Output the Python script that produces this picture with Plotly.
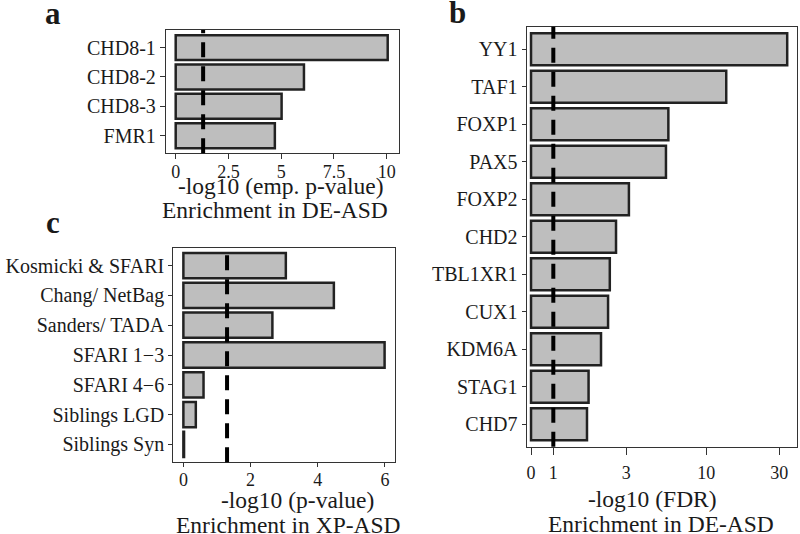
import plotly.graph_objects as go

# ---- data ----
a_cats = ["CHD8-1", "CHD8-2", "CHD8-3", "FMR1"]
a_vals = [10.05, 6.08, 5.02, 4.70]
a_ticks = [0, 2.5, 5, 7.5, 10]
a_ticktext = ["0", "2.5", "5", "7.5", "10"]
a_thr = 1.3

b_cats = ["YY1", "TAF1", "FOXP1", "PAX5", "FOXP2", "CHD2", "TBL1XR1", "CUX1", "KDM6A", "STAG1", "CHD7"]
b_vals = [33.8, 13.5, 5.65, 5.45, 3.12, 2.57, 2.34, 2.28, 2.05, 1.70, 1.66]
b_zero = 0.715  # where the "0" label sits on the log axis
b_ticks = [b_zero, 1, 3, 10, 30]
b_ticktext = ["0", "1", "3", "10", "30"]
b_thr = 1

c_cats = ["Kosmicki & SFARI", "Chang/ NetBag", "Sanders/ TADA", "SFARI 1\u22123", "SFARI 4\u22126", "Siblings LGD", "Siblings Syn"]
c_vals = [3.05, 4.48, 2.65, 5.99, 0.60, 0.37, 0.02]
c_ticks = [0, 2, 4, 6]
c_thr = 1.3

FONT = "Liberation Serif"
TXT = "#1a1a1a"
FILL = "#BEBEBE"
EDGE = "#222222"
W, H = 800, 534

bar_style = dict(color=FILL, line=dict(color=EDGE, width=2.5))

fig = go.Figure()
fig.add_trace(go.Bar(x=a_vals, y=a_cats, orientation="h", xaxis="x", yaxis="y",
                     marker=bar_style, width=0.85, showlegend=False))
fig.add_trace(go.Bar(x=[v - b_zero for v in b_vals], base=b_zero, y=b_cats, orientation="h",
                     xaxis="x2", yaxis="y2", marker=bar_style, width=0.85, showlegend=False))
fig.add_trace(go.Bar(x=c_vals, y=c_cats, orientation="h", xaxis="x3", yaxis="y3",
                     marker=bar_style, width=0.85, showlegend=False))

def px_x(p):
    return p / W

def px_y(p):
    return 1 - p / H

def axis_style(ticklen=4, standoff=0, size=20):
    return dict(showgrid=False, zeroline=False, showline=True, mirror=True,
                linecolor="#333333", linewidth=1.3, ticks="outside", ticklen=ticklen,
                tickcolor="#333333", tickwidth=1, ticklabelstandoff=standoff,
                tickfont=dict(family=FONT, size=size, color=TXT))

fig.update_layout(
    width=W, height=H,
    margin=dict(l=0, r=0, t=0, b=0),
    paper_bgcolor="white", plot_bgcolor="white",
    font=dict(family=FONT, color=TXT),
    xaxis=dict(domain=[px_x(166), px_x(399.3)], anchor="y", range=[-0.46, 10.6],
               tickvals=a_ticks, ticktext=a_ticktext, **axis_style(5, -3, 18)),
    yaxis=dict(domain=[px_y(153.3), px_y(30)], anchor="x", type="category",
               categoryorder="array", categoryarray=a_cats, range=[3.6, -0.6], **axis_style(5, 0)),
    xaxis2=dict(domain=[px_x(526.7), px_x(797)], anchor="y2", type="log",
                range=[-0.174, 1.593], tickvals=b_ticks, ticktext=b_ticktext, **axis_style(7, 3, 18)),
    yaxis2=dict(domain=[px_y(446.7), px_y(26.7)], anchor="x2", type="category",
                categoryorder="array", categoryarray=b_cats, range=[10.6, -0.6], **axis_style(4, 0)),
    xaxis3=dict(domain=[px_x(173.3), px_x(395)], anchor="y3", range=[-0.3, 6.3],
                tickvals=c_ticks, **axis_style(4, -3, 18)),
    yaxis3=dict(domain=[px_y(462.3), px_y(247.7)], anchor="x3", type="category",
                categoryorder="array", categoryarray=c_cats, range=[6.6, -0.6], **axis_style(4, 0)),
)

dash = dict(color="black", width=4, dash="15px,9px")
fig.add_shape(type="line", xref="x", yref="y domain", x0=a_thr, x1=a_thr, y0=0, y1=1, line=dash)
fig.add_shape(type="line", xref="x2", yref="y2 domain", x0=b_thr, x1=b_thr, y0=0, y1=1, line=dash)
fig.add_shape(type="line", xref="x3", yref="y3 domain", x0=c_thr, x1=c_thr, y0=0, y1=1, line=dash)

def ann(text, x, y, size, bold=False):
    fig.add_annotation(text=f"<b>{text}</b>" if bold else text, x=px_x(x), y=px_y(y),
                       xref="paper", yref="paper", showarrow=False,
                       xanchor="center", yanchor="middle",
                       font=dict(family=FONT, size=size, color=TXT))

# axis titles
ann("-log10 (emp. p-value)", 280.5, 186, 23.5)
ann("Enrichment in DE-ASD", 275, 210, 23.5)
ann("-log10 (FDR)", 652, 499.4, 23.5)
ann("Enrichment in DE-ASD", 661, 523.8, 23.5)
ann("-log10 (p-value)", 297, 500.4, 23.5)
ann("Enrichment in XP-ASD", 288, 525.2, 23.5)

# panel labels
ann("a", 53, 13.8, 31, bold=True)
ann("b", 457.5, 12.8, 31, bold=True)
ann("c", 52.5, 222.8, 31, bold=True)

fig.write_html("out.html", config={"displayModeBar": False},
               post_script="document.body.style.margin='0';document.body.style.overflow='hidden';")
